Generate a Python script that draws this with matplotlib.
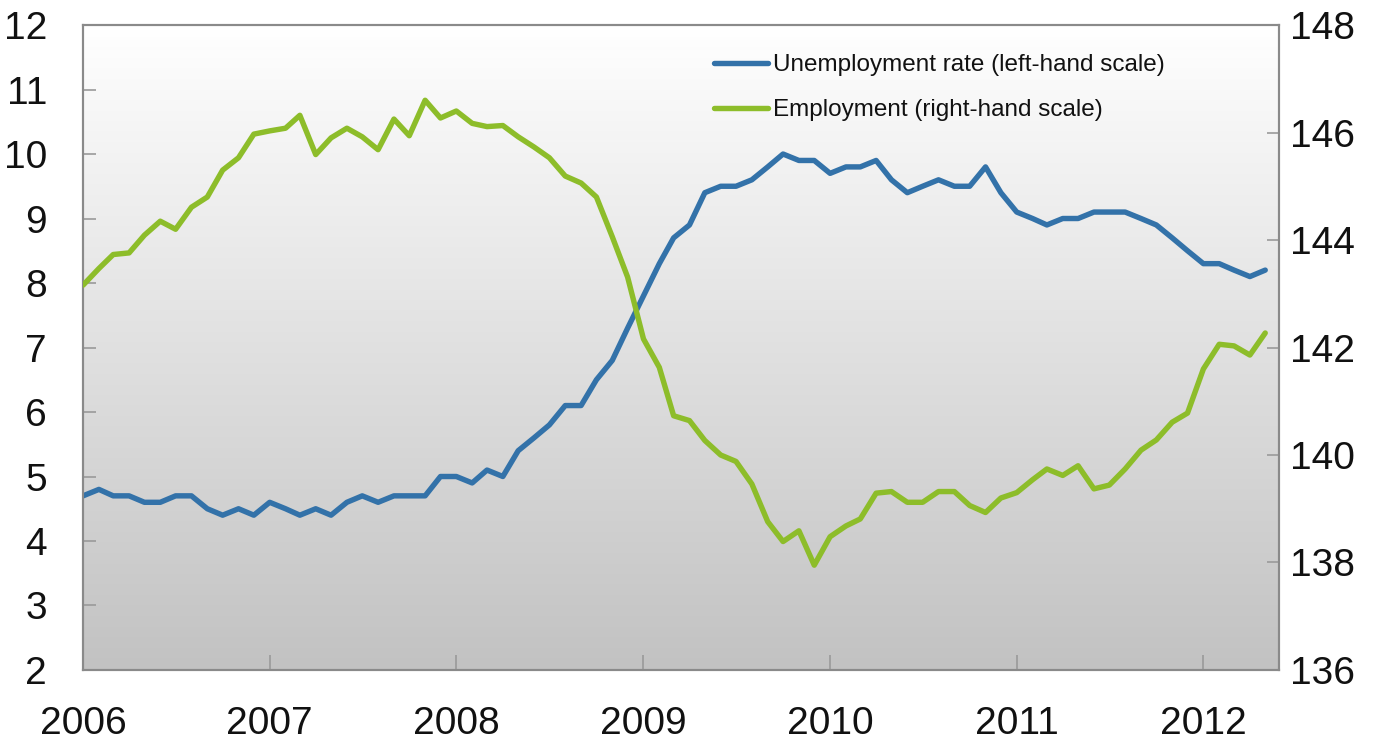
import numpy as np
import pandas as pd
import matplotlib
matplotlib.use("Agg")
import matplotlib.pyplot as plt
import matplotlib.dates as mdates

plt.rcParams['font.family'] = ['Liberation Sans', 'DejaVu Sans']

# monthly data, Jan 2006 - May 2012
months = pd.date_range('2006-01-01', periods=77, freq='MS')

unemployment = [
    4.7, 4.8, 4.7, 4.7, 4.6, 4.6, 4.7, 4.7, 4.5, 4.4, 4.5, 4.4,
    4.6, 4.5, 4.4, 4.5, 4.4, 4.6, 4.7, 4.6, 4.7, 4.7, 4.7, 5.0,
    5.0, 4.9, 5.1, 5.0, 5.4, 5.6, 5.8, 6.1, 6.1, 6.5, 6.8, 7.3,
    7.8, 8.3, 8.7, 8.9, 9.4, 9.5, 9.5, 9.6, 9.8, 10.0, 9.9, 9.9,
    9.7, 9.8, 9.8, 9.9, 9.6, 9.4, 9.5, 9.6, 9.5, 9.5, 9.8, 9.4,
    9.1, 9.0, 8.9, 9.0, 9.0, 9.1, 9.1, 9.1, 9.0, 8.9, 8.7, 8.5,
    8.3, 8.3, 8.2, 8.1, 8.2,
]

employment = [
    143.16, 143.47, 143.73, 143.76, 144.09, 144.35, 144.20, 144.61, 144.80, 145.30, 145.53, 145.97,
    146.03, 146.08, 146.32, 145.59, 145.90, 146.08, 145.92, 145.68, 146.25, 145.94, 146.60, 146.27,
    146.40, 146.17, 146.11, 146.13, 145.92, 145.73, 145.53, 145.19, 145.06, 144.80, 144.06, 143.31,
    142.16, 141.63, 140.73, 140.64, 140.27, 140.00, 139.88, 139.46, 138.76, 138.39, 138.59, 137.95,
    138.48, 138.68, 138.81, 139.29, 139.32, 139.12, 139.12, 139.32, 139.32, 139.06, 138.93, 139.20,
    139.30, 139.54, 139.74, 139.62, 139.80, 139.37, 139.44, 139.74, 140.09, 140.28, 140.61, 140.78,
    141.60, 142.06, 142.03, 141.86, 142.27,
]

left_ticks = [2, 3, 4, 5, 6, 7, 8, 9, 10, 11, 12]
right_ticks = [136, 138, 140, 142, 144, 146, 148]
year_ticks = pd.date_range('2006-01-01', '2012-01-01', freq='YS')

blue = '#3372a9'
green = '#8dbd2a'
frame = '#8a8a8a'

fig = plt.figure(figsize=(13.82, 7.4), dpi=100)
ax = fig.add_axes([0.0601, 0.0946, 0.8654, 0.8716])
ax2 = ax.twinx()

x0 = mdates.date2num(months[0])
x1 = mdates.date2num(pd.Timestamp('2012-05-28'))

# grey gradient background, white at the top
grad = np.linspace(0, 1, 256).reshape(-1, 1)
cmap = matplotlib.colors.LinearSegmentedColormap.from_list('bg', ['#ffffff', '#c2c2c2'])
ax.imshow(grad, cmap=cmap, aspect='auto', extent=[x0, x1, 2, 12],
          origin='upper', zorder=0)

l1, = ax.plot(months, unemployment, color=blue, lw=3.9, zorder=3,
              solid_joinstyle='round', solid_capstyle='round',
              label='Unemployment rate (left-hand scale)')
l2, = ax2.plot(months, employment, color=green, lw=3.9, zorder=3,
               solid_joinstyle='round', solid_capstyle='round',
               label='Employment (right-hand scale)')

ax.set_xlim(x0, x1)
ax.set_ylim(2, 12)
ax2.set_ylim(136, 148)
ax.set_yticks(left_ticks)
ax2.set_yticks(right_ticks)
ax.set_xticks(year_ticks)
ax.xaxis.set_major_formatter(mdates.DateFormatter('%Y'))

for a in (ax, ax2):
    for s in a.spines.values():
        s.set_color(frame)
        s.set_linewidth(1.5)
ax.tick_params(axis='y', direction='in', length=9, width=1.2, color='#9a9a9a',
               labelsize=28, pad=26, labelcolor='#111111')
ax.tick_params(axis='x', direction='in', length=11, width=1.2, color='#9a9a9a',
               labelsize=28, pad=26, labelcolor='#111111')
ax2.tick_params(axis='y', direction='in', length=9, width=1.2, color='#9a9a9a',
                labelsize=28, pad=8, labelcolor='#111111')

leg = ax2.legend(handles=[l1, l2], loc='upper left', bbox_to_anchor=(0.517, 0.927),
                 bbox_transform=fig.transFigure, frameon=False, fontsize=17.5,
                 handlelength=2.2, handletextpad=0.2, labelspacing=0.95,
                 borderaxespad=0, borderpad=0)
for t in leg.get_texts():
    t.set_color('#111111')

fig.savefig('out.png', dpi=100)
